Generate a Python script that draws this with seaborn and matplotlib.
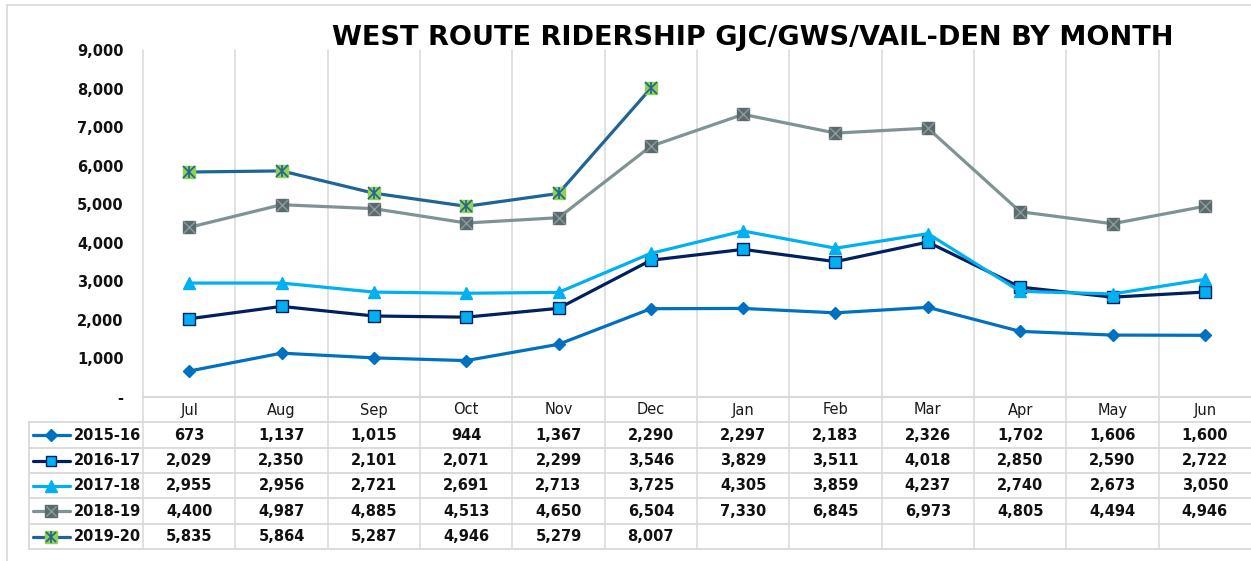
import numpy as np
import pandas as pd
import seaborn as sns
import matplotlib.pyplot as plt
from matplotlib.lines import Line2D
from matplotlib import transforms

# DATA
MONTHS = ["Jul", "Aug", "Sep", "Oct", "Nov", "Dec", "Jan", "Feb", "Mar", "Apr", "May", "Jun"]
SEASONS = ["2015-16", "2016-17", "2017-18", "2018-19", "2019-20"]
R_2015 = [673, 1137, 1015, 944, 1367, 2290, 2297, 2183, 2326, 1702, 1606, 1600]
R_2016 = [2029, 2350, 2101, 2071, 2299, 3546, 3829, 3511, 4018, 2850, 2590, 2722]
R_2017 = [2955, 2956, 2721, 2691, 2713, 3725, 4305, 3859, 4237, 2740, 2673, 3050]
R_2018 = [4400, 4987, 4885, 4513, 4650, 6504, 7330, 6845, 6973, 4805, 4494, 4946]
R_2019 = [5835, 5864, 5287, 4946, 5279, 8007]
Y_TICKS = [0, 1000, 2000, 3000, 4000, 5000, 6000, 7000, 8000, 9000]
TITLE = "WEST ROUTE RIDERSHIP GJC/GWS/VAIL-DEN BY MONTH"

W, H = 1251, 561
GRID = "#D9D9D9"

# per-series look: (line color, marker, size, face, edge, overlay markers)
STYLES = {
    "2015-16": dict(color="#0070C0", marker="D", ms=6.5, mfc="#0070C0", mec="#0070C0", extra=[]),
    "2016-17": dict(color="#002060", marker="s", ms=8.5, mfc="#00B0F0", mec="#002060", extra=[]),
    "2017-18": dict(color="#00B0F0", marker="^", ms=9, mfc="#00B0F0", mec="#00B0F0", extra=[]),
    "2018-19": dict(color="#7F9394", marker="s", ms=9, mfc="#5B6B6D", mec="#5B6B6D",
                    extra=[("x", "#8C9C9D", 8, 1.0)]),
    "2019-20": dict(color="#1F6496", marker="s", ms=9, mfc="#92D050", mec="#92D050",
                    extra=[("x", "#1F6496", 8, 1.2), ("|", "#1F6496", 9, 1.2)]),
}


def fx(px):
    return px / W


def fy(py):
    return 1 - py / H


def build_frame():
    rows = []
    for season, vals in zip(SEASONS, [R_2015, R_2016, R_2017, R_2018, R_2019]):
        for m, v in zip(MONTHS, vals):
            rows.append({"season": season, "month": m, "riders": v})
    return pd.DataFrame(rows)


def main():
    sns.set_style("white")
    plt.rcParams["font.family"] = ["DejaVu Sans"]

    df = build_frame()
    fig = plt.figure(figsize=(W / 100, H / 100), dpi=100)
    ax = fig.add_axes([fx(143), fy(397), 1 - fx(143), fy(50) - fy(397)])

    for season in SEASONS:
        st = STYLES[season]
        sub = df[df["season"] == season]
        sns.lineplot(data=sub, x="month", y="riders", ax=ax, sort=False,
                     color=st["color"], linewidth=2.3, marker=st["marker"],
                     markersize=st["ms"], markerfacecolor=st["mfc"],
                     markeredgecolor=st["mec"], markeredgewidth=1.0, zorder=3)
        for mk, c, s, mw in st["extra"]:
            ax.plot(sub["month"], sub["riders"], ls="none", marker=mk, color=c,
                    markersize=s, markeredgewidth=mw, zorder=4)

    ax.set_xlim(-0.5, len(MONTHS) - 0.5)
    ax.set_ylim(0, 9000)
    ax.set_yticks(Y_TICKS)
    ax.set_yticklabels(["-"] + [f"{t:,}" for t in Y_TICKS[1:]],
                       fontsize=10.5, fontweight="bold", color="#111111")
    ax.tick_params(axis="y", length=0, pad=14)
    ax.set_xticks([])
    ax.set_xlabel("")
    ax.set_ylabel("")
    for s in ax.spines.values():
        s.set_visible(False)

    # blended: x in data, y in figure
    bt = transforms.blended_transform_factory(ax.transData, fig.transFigure)

    # vertical gridlines through plot and table (last one falls off the edge)
    for i in range(len(MONTHS)):
        x = i - 0.5
        ax.add_line(Line2D([x, x], [fy(50), fy(549)], transform=bt, color=GRID,
                           lw=1.1, clip_on=False, zorder=1))

    # table horizontal lines
    ax.add_line(Line2D([fx(143), 1], [fy(397), fy(397)], transform=fig.transFigure,
                       color=GRID, lw=1.5, clip_on=False))
    row_lines = [422, 448, 473, 498, 524, 549]
    for py in row_lines:
        ax.add_line(Line2D([fx(29), 1], [fy(py), fy(py)], transform=fig.transFigure,
                           color=GRID, lw=1.3, clip_on=False))
    ax.add_line(Line2D([fx(29), fx(29)], [fy(422), fy(549)], transform=fig.transFigure,
                       color=GRID, lw=1.3, clip_on=False))

    # month header
    for i, m in enumerate(MONTHS):
        ax.text(i, fy(410), m, transform=bt, ha="center", va="center",
                fontsize=10.5, color="#1a1a1a", clip_on=False)

    # rows
    all_vals = [R_2015, R_2016, R_2017, R_2018, R_2019]
    for r, (season, vals) in enumerate(zip(SEASONS, all_vals)):
        yc = (row_lines[r] + row_lines[r + 1]) / 2
        for i, v in enumerate(vals):
            ax.text(i, fy(yc), f"{v:,}", transform=bt, ha="center", va="center",
                    fontsize=10.5, fontweight="bold", color="#111111", clip_on=False)
        st = STYLES[season]
        fig.add_artist(Line2D([fx(33), fx(70)], [fy(yc), fy(yc)], color=st["color"], lw=2.3,
                              transform=fig.transFigure))
        fig.add_artist(Line2D([fx(51)], [fy(yc)], ls="none", marker=st["marker"],
                              markersize=st["ms"] * 0.9, markerfacecolor=st["mfc"],
                              markeredgecolor=st["mec"], transform=fig.transFigure))
        for mk, c, s, mw in st["extra"]:
            fig.add_artist(Line2D([fx(51)], [fy(yc)], ls="none", marker=mk, color=c,
                                  markersize=s * 0.9, markeredgewidth=mw,
                                  transform=fig.transFigure))
        fig.text(fx(74), fy(yc), season, ha="left", va="center", fontsize=10.5,
                 fontweight="bold", color="#111111")

    # outer chart border
    fig.add_artist(Line2D([fx(7), 1], [fy(5), fy(5)], color=GRID, lw=1.2,
                          transform=fig.transFigure))
    fig.add_artist(Line2D([fx(7), fx(7)], [fy(5), 0], color=GRID, lw=1.2,
                          transform=fig.transFigure))

    fig.text(fx(753), fy(38), TITLE, ha="center", va="center", fontsize=19.5,
             fontweight="bold", color="#000000")

    fig.savefig("out.png", dpi=100)
    plt.close(fig)


if __name__ == "__main__":
    main()
